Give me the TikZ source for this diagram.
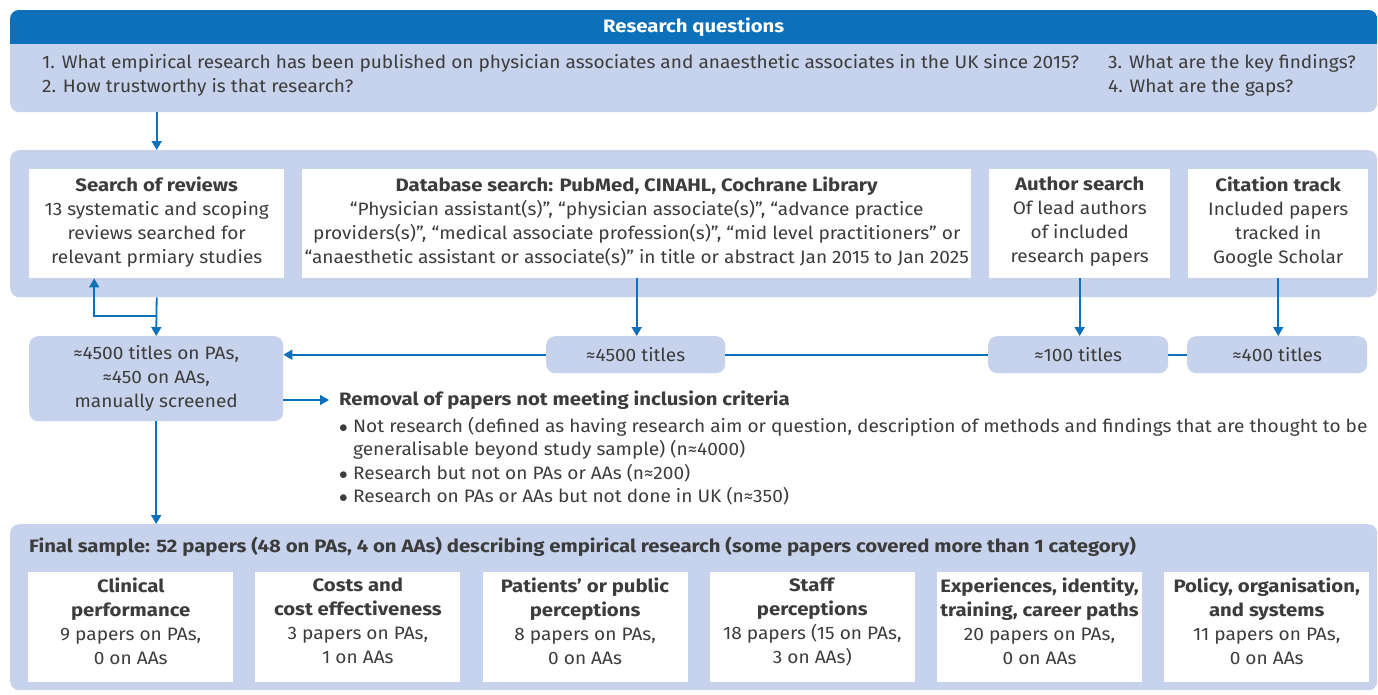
\documentclass[tikz,border=0pt]{standalone}
\usepackage{fontspec}
\setmainfont{Fira Sans}[FakeStretch=1.06, BoldFeatures={FakeStretch=1.13}]
\usetikzlibrary{arrows.meta,positioning}
\definecolor{bmjblue}{RGB}{12,113,186}
\definecolor{bmjpale}{RGB}{199,211,236}
\definecolor{bmjtext}{RGB}{60,60,60}
\newcommand{\critem}{\makebox[14pt][l]{\(\bullet\)}}

\begin{document}
\begin{tikzpicture}[
  x=1pt, y=-1pt,
  font=\fontsize{18}{24}\selectfont, text=bmjtext,
  panel/.style={fill=bmjpale, rounded corners=9pt, anchor=north west,
    minimum width=1367pt, inner sep=0pt},
  whitebox/.style={fill=white, anchor=north west, inner sep=0pt, align=center,
    minimum height=109pt, execute at end node={\rule[-8pt]{0pt}{0pt}}},
  countbox/.style={fill=bmjpale, rounded corners=9pt, anchor=north west,
    inner sep=0pt, align=center, minimum height=37pt},
  catbox/.style={fill=white, inner sep=0pt, align=center,
    minimum width=205pt, minimum height=110pt,
    execute at end node={\rule[-13pt]{0pt}{0pt}}},
  arrow/.style={-{Triangle[width=10pt,length=9pt]}, draw=bmjblue, line width=1.8pt},
  link/.style={draw=bmjblue, line width=1.8pt},
]
  \useasboundingbox (0,0) rectangle (1378,694);

  % Research questions
  \node[panel, minimum height=102pt] (rq) at (10,10) {};
  \begin{scope}
    \clip[rounded corners=9pt] (rq.north west) rectangle (rq.south east);
    \node[fill=bmjblue, anchor=north west, minimum width=1367pt, minimum height=34pt,
      inner sep=0pt, text=white, font=\fontsize{18}{24}\selectfont\bfseries]
      (rqtitle) at (rq.north west) {Research questions};
  \end{scope}
  \node[anchor=west, align=left, inner sep=0pt] (rq12) at (42,75)
    {1. What empirical research has been published on physician associates and anaesthetic associates in the UK since 2015?\\
     2. How trustworthy is that research?};
  \node[anchor=west, align=left, inner sep=0pt] (rq34) at (1108,75)
    {3. What are the key findings?\\4. What are the gaps?};

  % Searches
  \node[panel, minimum height=147pt] (search) at (10,150) {};
  \node[whitebox, minimum width=255pt] (reviews) at (29,169)
    {\textbf{Search of reviews}\\13 systematic and scoping\\reviews searched for\\relevant prmiary studies};
  \node[whitebox, minimum width=669pt] (database) at (302,169)
    {\textbf{Database search: PubMed, CINAHL, Cochrane Library}\\
     “Physician assistant(s)”, “physician associate(s)”, “advance practice\\
     providers(s)”, “medical associate profession(s)”, “mid level practitioners” or\\
     “anaesthetic assistant or associate(s)” in title or abstract Jan 2015 to Jan 2025};
  \node[whitebox, minimum width=181pt] (author) at (989,169)
    {\textbf{Author search}\\Of lead authors\\of included\\research papers};
  \node[whitebox, minimum width=180pt] (citation) at (1188,169)
    {\textbf{Citation track}\\Included papers\\tracked in\\Google Scholar};
  \draw[arrow] (rq.south -| reviews) -- (search.north -| reviews);

  % Titles found
  \node[countbox, minimum width=254pt, minimum height=85pt] (screened) at (29,336)
    {≈4500 titles on PAs,\\≈450 on AAs,\\manually screened};
  \node[countbox, minimum width=179pt] (dbtitles) at (546,336) {≈4500 titles};
  \node[countbox, minimum width=180pt] (authtitles) at (988,336) {≈100 titles};
  \node[countbox, minimum width=180pt] (citetitles) at (1187,336) {≈400 titles};

  \draw[arrow] (search.south -| reviews) -- (screened.north);
  \coordinate (loop) at (156.5,316);
  \draw[arrow] (loop) -| ([xshift=-62.5pt]reviews.south);
  \draw[arrow] (database.south) -- (dbtitles.north -| database);
  \draw[arrow] (author.south) -- (authtitles.north -| author);
  \draw[arrow] (citation.south) -- (citetitles.north -| citation);
  \draw[link] (citetitles.west) -- (authtitles.east);
  \draw[link] (authtitles.west) -- (dbtitles.east);
  \draw[arrow] (dbtitles.west) -- (dbtitles.west -| screened.east);

  % Exclusions
  \node[anchor=west, inner sep=0pt, font=\fontsize{18}{24}\selectfont\bfseries] (removal) at (339,400)
    {Removal of papers not meeting inclusion criteria};
  \node[anchor=north west, inner sep=0pt, align=left, font=\fontsize{18}{23.4}\selectfont] (criteria) at (339,417)
    {\critem Not research (defined as having research aim or question, description of methods and findings that are thought to be\\
     \hspace*{14pt}generalisable beyond study sample) (n≈4000)\\
     \critem Research but not on PAs or AAs (n≈200)\\
     \critem Research on PAs or AAs but not done in UK (n≈350)};
  \draw[arrow] (screened.east |- removal.west) -- ([xshift=-10pt]removal.west);

  % Final sample
  \node[panel, minimum height=166pt] (final) at (10,524) {};
  \node[anchor=west, inner sep=0pt, font=\fontsize{18}{24}\selectfont\bfseries] (finaltitle) at (29,547)
    {Final sample: 52 papers (48 on PAs, 4 on AAs) describing empirical research (some papers covered more than 1 category)};
  \draw[arrow] (screened.south) -- (final.north -| screened);

  \node[catbox, anchor=north west] (clinical) at (28,572)
    {\textbf{Clinical}\\\textbf{performance}\\9 papers on PAs,\\0 on AAs};
  \node[catbox, right=21.8pt of clinical] (costs)
    {\textbf{Costs and}\\\textbf{cost effectiveness}\\3 papers on PAs,\\1 on AAs};
  \node[catbox, right=21.8pt of costs] (patients)
    {\textbf{Patients’ or public}\\\textbf{perceptions}\\8 papers on PAs,\\0 on AAs};
  \node[catbox, right=21.8pt of patients] (staff)
    {\textbf{Staff}\\\textbf{perceptions}\\18 papers (15 on PAs,\\3 on AAs)};
  \node[catbox, right=21.8pt of staff] (careers)
    {\textbf{Experiences, identity,}\\\textbf{training, career paths}\\20 papers on PAs,\\0 on AAs};
  \node[catbox, right=21.8pt of careers] (policy)
    {\textbf{Policy, organisation,}\\\textbf{and systems}\\11 papers on PAs,\\0 on AAs};
\end{tikzpicture}
\end{document}
